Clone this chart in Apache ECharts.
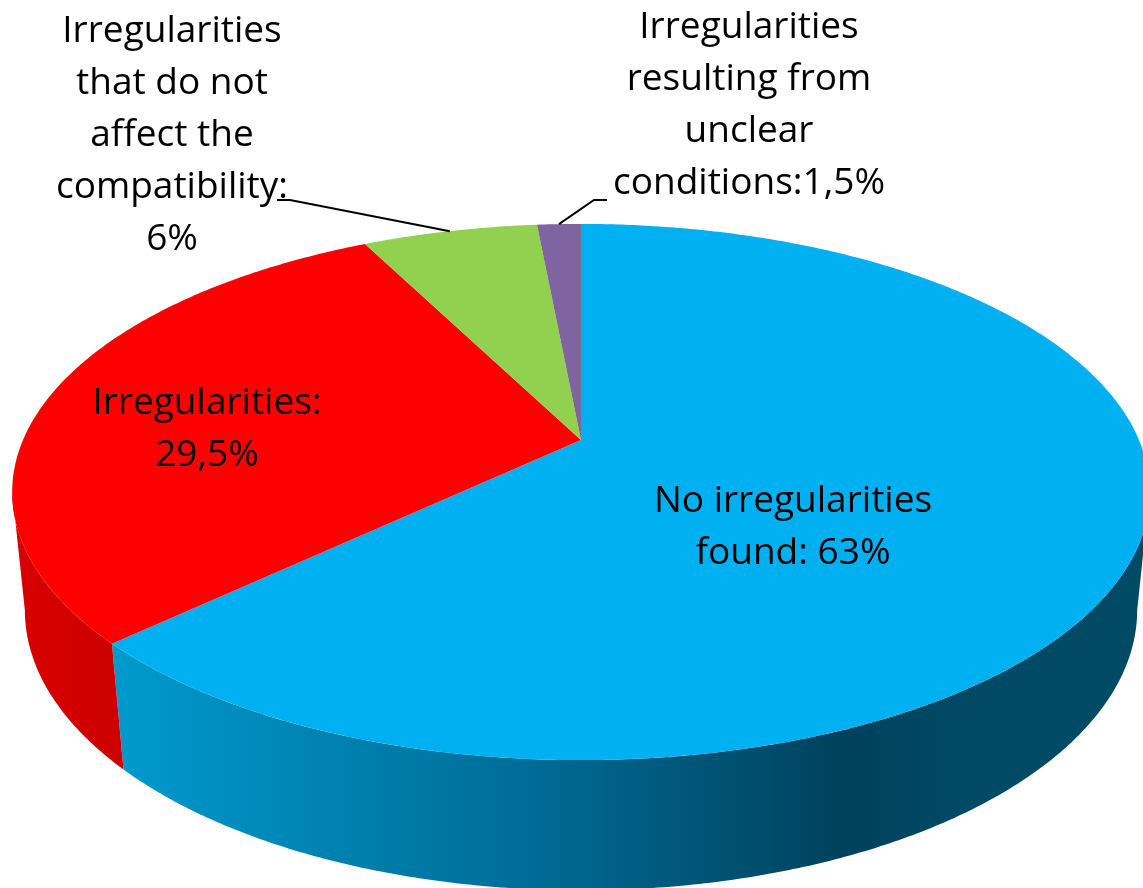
<!DOCTYPE html>
<html>
<head>
<meta charset="utf-8">
<style>html,body{margin:0;padding:0;background:#fff}#c{width:1143px;height:888px}</style>
<script src="https://cdn.jsdelivr.net/npm/echarts@6/dist/echarts.min.js"></script>
</head>
<body>
<div id="c"></div>
<script>
// Data: share of each outcome, clockwise from 12 o'clock
const categories = [
  'No irregularities\nfound: 63%',
  'Irregularities:\n29,5%',
  'Irregularities\nthat do not\naffect the\ncompatibility:\n6%',
  'Irregularities\nresulting from\nunclear\nconditions:1,5%'
];
const values = [63, 29.5, 6, 1.5];

// Styling and layout, kept apart from the data
const topColors = ['#00B0F0', '#FF0000', '#92D050', '#8064A2'];
const wallBlue = {
  type: 'linear', x: 0, y: 0, x2: 1143, y2: 0, global: true,
  colorStops: [
    { offset: 0.10, color: '#009ACD' },
    { offset: 0.46, color: '#006C97' },
    { offset: 0.74, color: '#00415C' },
    { offset: 0.85, color: '#004A66' },
    { offset: 1, color: '#004A66' }
  ]
};
const wallRed = {
  type: 'linear', x: 0, y: 0, x2: 1143, y2: 0, global: true,
  colorStops: [{ offset: 0, color: '#DA0000' }, { offset: 0.11, color: '#CC0000' }]
};
const wallColors = [wallBlue, wallRed, '#7BB040', '#6A5288'];
const labelCentres = [[793, 527], [207, 429], [172, 135], [749, 105]];
const leaderElbows = { 2: [[277, 200], [290, 200]], 3: [[607, 200], [594, 200]] };

// Perspective projection of the disc: top face and lower rim
const topDisc = { x: 581, y: 440, rx: 558, ry: 258, p: 0.194 };
const lowDisc = { x: 581, y: 557, rx: 546, ry: 270, p: 0.19 };
// Angles at which the rim turns out of sight
const rimStart = 101, rimEnd = 259;
function project(d, deg) {
  const a = deg * Math.PI / 180, u = Math.sin(a), v = Math.cos(a), w = 1 + d.p * v;
  return [d.x + d.rx * u / w, d.y - d.ry * v / w];
}
const total = values.reduce((s, n) => s + n, 0);
function sliceAngles(i) {
  let before = 0;
  for (let k = 0; k < i; k++) before += values[k];
  return [before / total * 360, (before + values[i]) / total * 360];
}
function arc(d, a0, a1) {
  const pts = [], n = Math.max(2, Math.ceil((a1 - a0) * 2));
  for (let k = 0; k <= n; k++) pts.push(project(d, a0 + (a1 - a0) * k / n));
  return pts;
}
function renderWall(params) {
  const [s0, s1] = sliceAngles(params.dataIndex);
  const a0 = Math.max(s0, rimStart), a1 = Math.min(s1, rimEnd);
  if (a1 <= a0) return null;
  const pts = arc(topDisc, a0, a1).concat(arc(lowDisc, a0, a1).reverse());
  return { type: 'polygon', shape: { points: pts }, style: { fill: wallColors[params.dataIndex] } };
}
function renderTop(params) {
  const [a0, a1] = sliceAngles(params.dataIndex);
  const pts = [[topDisc.x, topDisc.y]].concat(arc(topDisc, a0, a1));
  return { type: 'polygon', shape: { points: pts }, style: { fill: topColors[params.dataIndex] } };
}
function renderLabel(params) {
  const i = params.dataIndex, children = [];
  const elbow = leaderElbows[i];
  if (elbow) {
    const [a0, a1] = sliceAngles(i);
    children.push({
      type: 'polyline',
      shape: { points: elbow.concat([project(topDisc, (a0 + a1) / 2)]) },
      style: { stroke: '#000', lineWidth: 2, fill: null }
    });
  }
  children.push({
    type: 'text',
    style: {
      text: categories[i], x: labelCentres[i][0], y: labelCentres[i][1],
      align: 'center', verticalAlign: 'middle',
      fontFamily: 'Open Sans', fontSize: 37, lineHeight: 52, fill: '#000'
    }
  });
  return { type: 'group', children };
}
const chart = echarts.init(document.getElementById('c'), null, { renderer: 'canvas' });
const base = { type: 'custom', coordinateSystem: 'none', data: values, silent: true, animation: false, clip: false };
chart.setOption({
  animation: false,
  backgroundColor: '#fff',
  series: [
    Object.assign({}, base, { name: 'walls', z: 1, renderItem: renderWall }),
    Object.assign({}, base, { name: 'tops', z: 2, renderItem: renderTop }),
    Object.assign({}, base, { name: 'labels', z: 3, renderItem: renderLabel })
  ]
});
</script>
</body>
</html>
